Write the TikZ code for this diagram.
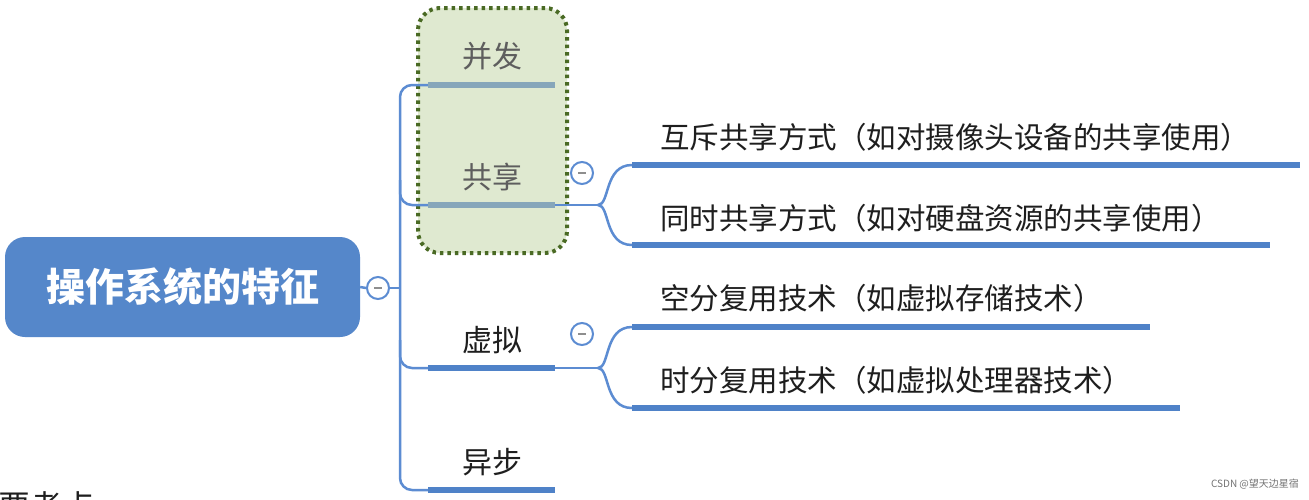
\documentclass[tikz,border=0pt]{standalone}
\usepackage{fontspec}
\newfontfamily\cjk{Noto Sans CJK SC}
\definecolor{rootblue}{HTML}{5587CA}
\definecolor{lineblue}{HTML}{4F82C8}
\definecolor{connblue}{HTML}{5C8CD2}
\definecolor{greyline}{HTML}{86A6BA}
\definecolor{gfill}{HTML}{DFE9D0}
\definecolor{gborder}{HTML}{4A6A24}
\definecolor{txt}{HTML}{1E1E1E}
\definecolor{gtxt}{HTML}{5E5E5E}
\begin{document}
\begin{tikzpicture}[x=1pt,y=-1pt,
  rootbox/.style={fill=rootblue, rounded corners=20pt, minimum width=355pt, minimum height=100pt, inner sep=0pt, text=white, font=\cjk\bfseries\fontsize{39}{42}\selectfont},
  gbox/.style={fill=gfill, draw=gborder, line width=4pt, dash pattern=on 3.5pt off 4pt, rounded corners=22pt, minimum width=149pt, minimum height=245pt, inner sep=0pt},
  midlbl/.style={font=\cjk\fontsize{30}{32}\selectfont, text=txt, inner sep=0pt},
  grlbl/.style={midlbl, text=gtxt},
  longlbl/.style={font=\cjk\fontsize{29.5}{32}\selectfont, text=txt, inner sep=0pt, anchor=west},
  bar/.style={line width=6.5pt, color=lineblue},
  greybar/.style={line width=6.5pt, color=greyline},
  conn/.style={line width=2.5pt, color=connblue, rounded corners=12pt},
  sub/.style={line width=2.5pt, color=connblue},
  toggle/.style={circle, draw=connblue, line width=2pt, fill=white, minimum size=22pt, inner sep=0pt},
]
\useasboundingbox (0,0) rectangle (1309,499);
\fill[white] (0,0) rectangle (1309,499);

% group highlight box
\node[gbox] (grp) at (492.5,130.5) {};

% root
\node[rootbox] (root) at (182.5,287) {操作系统的特征};
\node[toggle] (c0) at (378,288) {};
\draw[gtxt!70, line width=1.5pt] ([xshift=-4pt]c0.center) -- ([xshift=4pt]c0.center);

% trunk coordinates
\coordinate (tTop) at (400,85);
\coordinate (tBot) at (400,490);
\coordinate (bfL) at (428,85);  \coordinate (bfR) at (555,85);
\coordinate (gxL) at (428,205); \coordinate (gxR) at (555,205);
\coordinate (xnL) at (428,368); \coordinate (xnR) at (555,368);
\coordinate (ybL) at (428,490); \coordinate (ybR) at (555,490);

\draw[conn] (root.east) -- (c0.west);
\draw[conn] (c0.east) -- (c0 -| tTop);
\draw[conn] (bfL) -- (tTop) -- (tBot) -- (ybL);
\draw[conn] (400,180) |- (gxL);
\draw[conn] (400,340) |- (xnL);

% first-level labels and bars
\draw[greybar] (bfL) -- (bfR);
\draw[greybar] (gxL) -- (gxR);
\draw[bar] (xnL) -- (xnR);
\draw[bar] (ybL) -- (ybR);
\node[grlbl] (bf) at (492,56) {并发};
\node[grlbl] (gx) at (492,177) {共享};
\node[midlbl] (xn) at (492,340) {虚拟};
\node[midlbl] (yb) at (492,462) {异步};

% sharing sub-branches
\coordinate (gxS) at (598,205);
\coordinate (hcL) at (632,165); \coordinate (hcR) at (1300,165);
\coordinate (tsL) at (632,245); \coordinate (tsR) at (1270,245);
\draw[sub] (gxR) -- (gxS);
\draw[sub] (gxS) .. controls (610,205) and (604,165) .. (hcL);
\draw[sub] (gxS) .. controls (610,205) and (604,245) .. (tsL);
\draw[bar] (hcL) -- (hcR);
\draw[bar] (tsL) -- (tsR);
\node[toggle] (c1) at (582,173) {};
\draw[gtxt!70, line width=1.5pt] ([xshift=-4pt]c1.center) -- ([xshift=4pt]c1.center);
\node[longlbl] (hc) at (660,137) {互斥共享方式（如对摄像头设备的共享使用）};
\node[longlbl] (ts) at (660,218) {同时共享方式（如对硬盘资源的共享使用）};

% virtual sub-branches
\coordinate (xnS) at (598,368);
\coordinate (kfL) at (632,327); \coordinate (kfR) at (1150,327);
\coordinate (sfL) at (632,408); \coordinate (sfR) at (1180,408);
\draw[sub] (xnR) -- (xnS);
\draw[sub] (xnS) .. controls (610,368) and (604,327) .. (kfL);
\draw[sub] (xnS) .. controls (610,368) and (604,408) .. (sfL);
\draw[bar] (kfL) -- (kfR);
\draw[bar] (sfL) -- (sfR);
\node[toggle] (c2) at (582,334) {};
\draw[gtxt!70, line width=1.5pt] ([xshift=-4pt]c2.center) -- ([xshift=4pt]c2.center);
\node[longlbl] (kf) at (660,298) {空分复用技术（如虚拟存储技术）};
\node[longlbl] (sf) at (660,380) {时分复用技术（如虚拟处理器技术）};

% cut-off text at bottom left
\begin{scope}
\clip (0,0) rectangle (1309,499);
\node[font=\cjk\fontsize{32}{34}\selectfont, text=txt, inner sep=0pt, anchor=west] (kd) at (-2,506) {要考点};
\end{scope}

% watermark
\node[font=\cjk\fontsize{10}{12}\selectfont, text=black!55, inner sep=0pt] (wm) at (1255,484) {CSDN @望天边星宿};
\end{tikzpicture}
\end{document}
